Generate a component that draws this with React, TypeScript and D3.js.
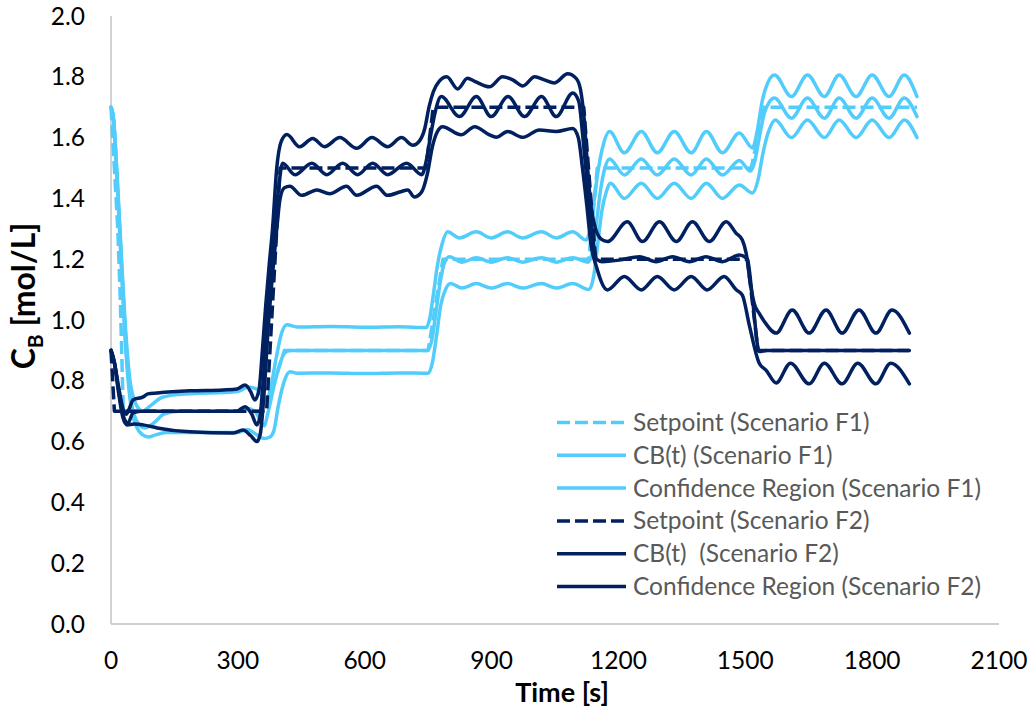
import React from 'react';
import * as d3 from 'd3';

type Pt = [number, number];

// Time [s], concentration C_B [mol/L]
const setpointF1: Pt[] = [[0,1.70],[8,1.50],[16,1.30],[22,1.07],[29,0.70],[365,0.70],[410,0.90],[750,0.90],[785,1.20],[1130,1.20],[1150,1.50],[1514,1.50],[1545,1.70],[1906,1.70]];

const cbF1: Pt[] = [[0,1.70],[6,1.66],[15,1.45],[25,1.18],[35,0.93],[45,0.76],[60,0.67],[80,0.645],[100,0.66],[125,0.69],[160,0.70],[300,0.70],[320,0.71],[340,0.70],[355,0.665],[362,0.652],[372,0.70],[385,0.78],[398,0.85],[410,0.89],[423,0.90],[500,0.90],[600,0.90],[700,0.90],[748,0.90],[758,0.93],[768,1.02],[778,1.12],[789,1.19],[800,1.208],[830,1.19],[864,1.205],[899,1.19],[938,1.205],[973,1.19],[1018,1.205],[1053,1.19],[1092,1.205],[1128,1.19],[1138,1.22],[1148,1.32],[1158,1.43],[1168,1.50],[1179,1.53],[1214,1.477],[1254,1.53],[1292,1.477],[1332,1.53],[1372,1.477],[1408,1.53],[1446,1.477],[1486,1.525],[1512,1.49],[1522,1.52],[1533,1.60],[1545,1.68],[1556,1.715],[1569,1.73],[1609,1.664],[1647,1.73],[1687,1.664],[1722,1.73],[1762,1.664],[1800,1.73],[1840,1.664],[1876,1.73],[1906,1.669]];

const upperF1: Pt[] = [[0,1.70],[6,1.66],[15,1.46],[25,1.20],[35,0.96],[45,0.80],[60,0.72],[75,0.70],[95,0.72],[120,0.745],[160,0.755],[300,0.765],[325,0.78],[345,0.772],[360,0.745],[368,0.737],[378,0.78],[390,0.87],[402,0.95],[416,0.984],[440,0.977],[520,0.979],[600,0.976],[680,0.978],[745,0.975],[753,1.0],[762,1.08],[772,1.18],[783,1.25],[796,1.29],[824,1.27],[864,1.29],[899,1.27],[938,1.29],[973,1.27],[1018,1.29],[1053,1.27],[1092,1.29],[1124,1.263],[1133,1.30],[1143,1.40],[1153,1.50],[1163,1.57],[1179,1.62],[1214,1.55],[1254,1.62],[1292,1.55],[1332,1.62],[1372,1.55],[1408,1.62],[1446,1.55],[1486,1.615],[1517,1.566],[1528,1.62],[1540,1.72],[1553,1.78],[1569,1.806],[1609,1.735],[1647,1.806],[1687,1.735],[1722,1.806],[1762,1.735],[1800,1.806],[1840,1.735],[1876,1.806],[1906,1.735]];

const lowerF1: Pt[] = [[0,1.70],[6,1.66],[15,1.44],[25,1.16],[35,0.90],[45,0.74],[60,0.65],[75,0.622],[88,0.615],[105,0.622],[130,0.63],[300,0.63],[322,0.64],[342,0.625],[362,0.61],[376,0.615],[385,0.635],[396,0.72],[410,0.80],[423,0.83],[440,0.825],[520,0.826],[600,0.824],[680,0.826],[750,0.825],[760,0.86],[770,0.95],[780,1.05],[791,1.10],[803,1.12],[830,1.105],[864,1.12],[899,1.105],[938,1.12],[973,1.105],[1018,1.12],[1053,1.105],[1092,1.12],[1130,1.10],[1141,1.14],[1151,1.25],[1161,1.36],[1171,1.42],[1181,1.45],[1214,1.40],[1254,1.45],[1292,1.40],[1332,1.45],[1372,1.40],[1408,1.45],[1446,1.40],[1486,1.444],[1517,1.418],[1530,1.46],[1542,1.55],[1555,1.62],[1571,1.658],[1609,1.60],[1647,1.658],[1687,1.60],[1722,1.658],[1762,1.60],[1800,1.658],[1840,1.60],[1876,1.658],[1906,1.60]];

const setpointF2: Pt[] = [[0,0.90],[8,0.70],[368,0.70],[400,1.50],[745,1.50],[762,1.70],[1118,1.70],[1146,1.20],[1505,1.20],[1530,0.90],[1888,0.90]];

const cbF2: Pt[] = [[0,0.90],[8,0.86],[18,0.77],[28,0.69],[40,0.661],[52,0.694],[70,0.70],[297,0.70],[317,0.715],[333,0.69],[345,0.655],[352,0.68],[360,0.80],[368,0.98],[377,1.15],[387,1.30],[396,1.43],[406,1.516],[435,1.478],[475,1.516],[510,1.478],[548,1.516],[583,1.478],[619,1.516],[654,1.478],[699,1.516],[735,1.478],[745,1.52],[755,1.60],[766,1.68],[781,1.735],[824,1.669],[864,1.735],[899,1.669],[939,1.735],[978,1.669],[1018,1.735],[1053,1.669],[1092,1.747],[1106,1.72],[1116,1.60],[1126,1.45],[1136,1.31],[1148,1.20],[1162,1.192],[1202,1.197],[1250,1.208],[1289,1.192],[1328,1.208],[1368,1.192],[1407,1.208],[1446,1.192],[1486,1.214],[1505,1.20],[1517,1.07],[1533,0.896],[1549,0.90],[1888,0.90]];

const upperF2: Pt[] = [[0,0.90],[8,0.86],[18,0.78],[28,0.71],[36,0.69],[45,0.715],[52,0.737],[76,0.747],[87,0.757],[109,0.76],[187,0.767],[265,0.77],[298,0.773],[317,0.786],[330,0.765],[340,0.737],[350,0.77],[358,0.90],[366,1.05],[374,1.18],[382,1.30],[392,1.50],[402,1.585],[416,1.61],[446,1.57],[477,1.597],[505,1.57],[541,1.60],[581,1.565],[617,1.60],[654,1.57],[687,1.60],[714,1.575],[730,1.59],[742,1.63],[752,1.70],[762,1.75],[776,1.785],[794,1.80],[820,1.76],[843,1.795],[860,1.785],[895,1.767],[926,1.80],[950,1.79],[974,1.77],[1002,1.80],[1025,1.79],[1049,1.78],[1080,1.81],[1100,1.795],[1110,1.76],[1119,1.66],[1126,1.52],[1133,1.40],[1146,1.30],[1160,1.265],[1174,1.258],[1221,1.323],[1257,1.258],[1297,1.323],[1337,1.258],[1375,1.323],[1415,1.258],[1455,1.323],[1478,1.286],[1493,1.263],[1502,1.22],[1512,1.12],[1522,1.05],[1533,1.022],[1545,0.995],[1573,0.957],[1611,1.033],[1651,0.957],[1691,1.033],[1729,0.957],[1769,1.033],[1809,0.957],[1847,1.033],[1888,0.957]];

const lowerF2: Pt[] = [[0,0.90],[8,0.86],[18,0.76],[28,0.68],[38,0.655],[55,0.658],[76,0.655],[109,0.645],[187,0.632],[288,0.628],[312,0.638],[330,0.62],[345,0.60],[353,0.625],[362,0.76],[372,0.98],[382,1.15],[392,1.30],[400,1.40],[410,1.435],[423,1.44],[451,1.41],[487,1.428],[517,1.415],[557,1.44],[581,1.41],[628,1.44],[654,1.41],[685,1.422],[702,1.428],[717,1.405],[734,1.42],[748,1.48],[760,1.57],[772,1.62],[784,1.636],[828,1.609],[860,1.636],[895,1.609],[911,1.601],[938,1.62],[974,1.601],[1013,1.625],[1053,1.62],[1092,1.63],[1105,1.60],[1115,1.50],[1125,1.38],[1135,1.25],[1148,1.175],[1174,1.099],[1214,1.143],[1254,1.099],[1292,1.143],[1332,1.099],[1372,1.143],[1410,1.099],[1450,1.143],[1478,1.10],[1493,1.082],[1510,0.98],[1533,0.858],[1549,0.835],[1573,0.793],[1607,0.858],[1651,0.79],[1687,0.858],[1729,0.79],[1766,0.858],[1809,0.79],[1844,0.858],[1888,0.79]];

const xTickValues = [0, 300, 600, 900, 1200, 1500, 1800, 2100];
const yTickValues = [0, 0.2, 0.4, 0.6, 0.8, 1.0, 1.2, 1.4, 1.6, 1.8, 2.0];

const legendLabels = [
  'Setpoint (Scenario F1)',
  'CB(t) (Scenario F1)',
  'Confidence Region (Scenario F1)',
  'Setpoint (Scenario F2)',
  'CB(t)  (Scenario F2)',
  'Confidence Region (Scenario F2)',
];

const LIGHT = '#52CDFB';
const DARK = '#002060';
const FONT = 'Lato, "Open Sans", sans-serif';

const W = 1032;
const H = 713;
const plot = { left: 111, right: 999, top: 16, bottom: 624 };

export default function App() {
  const x = d3.scaleLinear().domain([0, 2100]).range([plot.left, plot.right]);
  const y = d3.scaleLinear().domain([0, 2]).range([plot.bottom, plot.top]);
  const smooth = d3
    .line<Pt>()
    .x((d) => x(d[0]))
    .y((d) => y(d[1]))
    .curve(d3.curveMonotoneX);
  const straight = d3
    .line<Pt>()
    .x((d) => x(d[0]))
    .y((d) => y(d[1]));

  const series = [
    { data: setpointF1, color: LIGHT, dashed: true },
    { data: cbF1, color: LIGHT, dashed: false },
    { data: upperF1, color: LIGHT, dashed: false },
    { data: lowerF1, color: LIGHT, dashed: false },
    { data: setpointF2, color: DARK, dashed: true },
    { data: cbF2, color: DARK, dashed: false },
    { data: upperF2, color: DARK, dashed: false },
    { data: lowerF2, color: DARK, dashed: false },
  ];

  const legendStyle = [
    { color: LIGHT, dashed: true },
    { color: LIGHT, dashed: false },
    { color: LIGHT, dashed: false },
    { color: DARK, dashed: true },
    { color: DARK, dashed: false },
    { color: DARK, dashed: false },
  ];

  const sw = 3.5;
  const dash = '13,5';

  return (
    <svg
      width={W}
      height={H}
      style={{ position: 'absolute', left: 0, top: 0, background: '#fff' }}
      fontFamily={FONT}
    >
      <rect x={0} y={0} width={W} height={H} fill="#fff" />
      {/* axes */}
      <line x1={plot.left} x2={plot.left} y1={plot.top} y2={plot.bottom} stroke="#bfbfbf" strokeWidth={1.4} />
      <line x1={plot.left} x2={plot.right} y1={plot.bottom} y2={plot.bottom} stroke="#bfbfbf" strokeWidth={1.4} />

      {yTickValues.map((v) => (
        <text key={v} x={85} y={y(v)} dy="0.35em" textAnchor="end" fontSize={24.5} fill="#000">
          {v.toFixed(1)}
        </text>
      ))}
      {xTickValues.map((v) => (
        <text key={v} x={x(v)} y={660} dy="0.35em" textAnchor="middle" fontSize={24.5} fill="#000">
          {v}
        </text>
      ))}

      {/* series */}
      {series.map((s, i) => (
        <path
          key={i}
          d={(s.dashed ? straight(s.data) : smooth(s.data)) || ''}
          fill="none"
          stroke={s.color}
          strokeWidth={sw}
          strokeDasharray={s.dashed ? dash : undefined}
          strokeLinejoin="round"
          strokeLinecap={s.dashed ? 'butt' : 'round'}
        />
      ))}

      {/* legend */}
      {legendLabels.map((label, i) => {
        const ly = 422.5 + i * 32.8;
        return (
          <g key={label}>
            <line
              x1={557}
              x2={626}
              y1={ly}
              y2={ly}
              stroke={legendStyle[i].color}
              strokeWidth={sw}
              strokeDasharray={legendStyle[i].dashed ? dash : undefined}
            />
            <text x={633} y={ly} dy="0.35em" fontSize={24.5} fill="#595959" style={{ whiteSpace: 'pre' }}>
              {label}
            </text>
          </g>
        );
      })}

      {/* axis titles */}
      <text x={562} y={693} dy="0.35em" textAnchor="middle" fontSize={27} fontWeight="bold" fill="#000">
        Time [s]
      </text>
      <text
        transform="translate(24,296) rotate(-90)"
        textAnchor="middle"
        dy="0.35em"
        fontSize={32}
        fontWeight="bold"
        fill="#000"
        style={{ whiteSpace: 'pre' }}
      >
        C<tspan dy={8} fontSize={21}>B</tspan>
        <tspan dy={-8}> [mol/L]</tspan>
      </text>
    </svg>
  );
}
